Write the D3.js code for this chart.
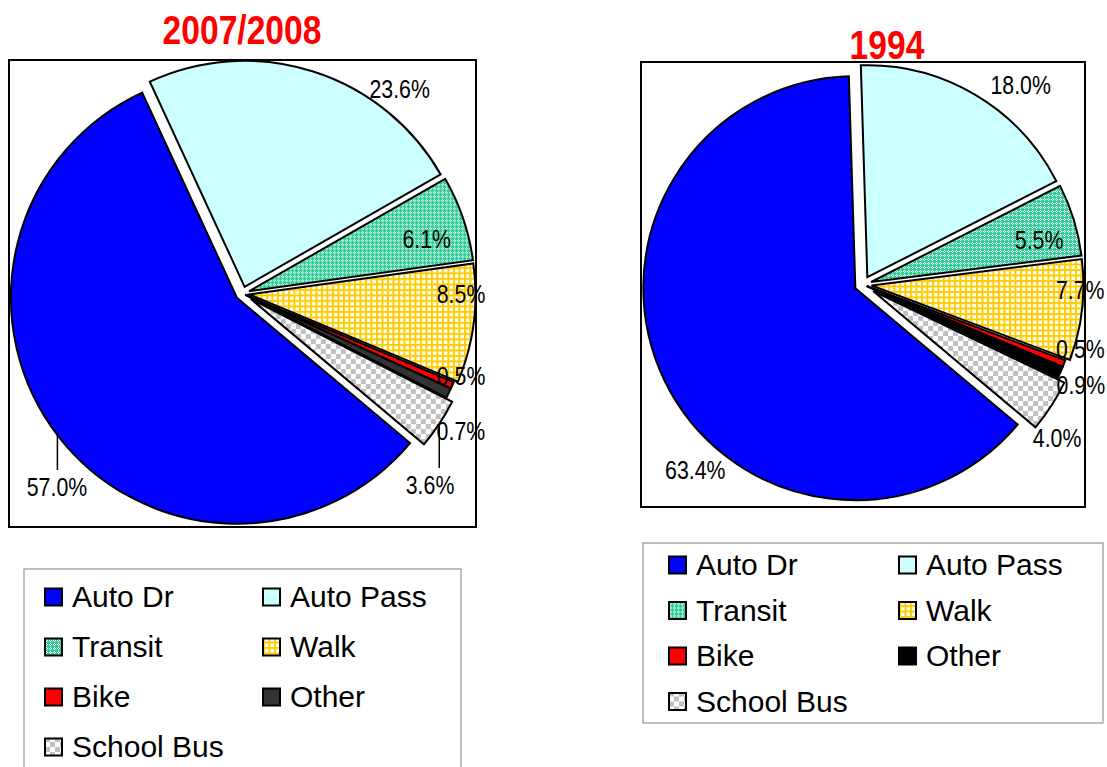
<!DOCTYPE html>
<html>
<head>
<meta charset="utf-8">
<script src="https://cdn.jsdelivr.net/npm/d3@7"></script>
<style>
  body { margin: 0; background: #fff; }
  .narrow { font-family: "Liberation Sans", Arial, sans-serif; }
  .legtxt { font-family: "Liberation Sans", Arial, sans-serif; }
</style>
</head>
<body>
<script>
// trip shares by mode, two survey years
var modes = ["Auto Dr", "Auto Pass", "Transit", "Walk", "Bike", "Other", "School Bus"];
var share2008 = [57.0, 23.6, 6.1, 8.5, 0.5, 0.7, 3.6];
var share1994 = [63.4, 18.0, 5.5, 7.7, 0.5, 0.9, 4.0];
var titles = ["2007/2008", "1994"];

var W = 1107, H = 767;
var NARROW = 0.82; // arial narrow is ~82% of arial width
var svg = d3.select("body").append("svg")
  .attr("width", W)
  .attr("height", H);

// fill patterns (excel style)
var defs = svg.append("defs");

var pt = defs.append("pattern").attr("id", "transit")
  .attr("patternUnits", "userSpaceOnUse").attr("width", 4).attr("height", 4);
pt.append("rect").attr("width", 4).attr("height", 4).attr("fill", "#33cc99");
[[1,0],[0,1],[2,1],[1,2]].forEach(function(p) {
  pt.append("rect").attr("x", p[0]).attr("y", p[1]).attr("width", 1).attr("height", 1).attr("fill", "#fff");
});

var pw = defs.append("pattern").attr("id", "walk")
  .attr("patternUnits", "userSpaceOnUse").attr("width", 5.5).attr("height", 5.5);
pw.append("rect").attr("width", 5.5).attr("height", 5.5).attr("fill", "#fff");
pw.append("rect").attr("width", 5.5).attr("height", 2).attr("fill", "#ffcc00");
pw.append("rect").attr("width", 2).attr("height", 5.5).attr("fill", "#ffcc00");

var ps = defs.append("pattern").attr("id", "school")
  .attr("patternUnits", "userSpaceOnUse").attr("width", 10).attr("height", 10);
ps.append("rect").attr("width", 10).attr("height", 10).attr("fill", "#fff");
ps.append("rect").attr("width", 5).attr("height", 5).attr("fill", "#c0c0c0");
ps.append("rect").attr("x", 5).attr("y", 5).attr("width", 5).attr("height", 5).attr("fill", "#c0c0c0");

var charts = [
  {
    title: titles[0], values: share2008, otherColor: "#333333",
    box: [9, 60, 476, 527], r: 226, titleX: 242, titleY: 44,
    explode: [7, 7, 7, 7, 3, 3, 10],
    labelPos: [[223.8, 1.186], [37.6, 1.14], [73.5, 0.85], [90.1, 0.967], [110.7, 1.034], [122.2, 1.142], [135.6, 1.186]],
    leader: [true, false, false, false, false, false, true],
    legend: { box: [24, 569, 461, 800], y0: 597, step: 50, cols: [45, 263] }
  },
  {
    title: titles[1], values: share1994, otherColor: "#000000",
    box: [641, 62, 1085, 507], r: 212, titleX: 887, titleY: 59,
    explode: [8.5, 8.5, 8.5, 8.5, 4, 4, 12],
    labelPos: [[222.2, 1.178], [38.3, 1.20], [75.7, 0.857], [91.4, 1.025], [106.6, 1.07], [114.8, 1.132], [128.4, 1.168]],
    leader: [false, false, false, false, false, false, false],
    legend: { box: [643, 543, 1103, 723], y0: 565, step: 45.5, cols: [669, 899] }
  }
];

var rad = Math.PI / 180;

charts.forEach(function(c) {
  var fills = ["#0000ff", "#ccffff", "url(#transit)", "url(#walk)", "#ff0000", c.otherColor, "url(#school)"];
  var cx = (c.box[0] + c.box[2]) / 2, cy = (c.box[1] + c.box[3]) / 2;

  // plot area frame
  svg.append("rect")
    .attr("x", c.box[0]).attr("y", c.box[1])
    .attr("width", c.box[2] - c.box[0]).attr("height", c.box[3] - c.box[1])
    .attr("fill", "#fff").attr("stroke", "#000").attr("stroke-width", 2);

  var pie = d3.pie().sort(null)
    .startAngle(130 * rad).endAngle(130 * rad + 2 * Math.PI);
  var arcs = pie(c.values);
  var arc = d3.arc().innerRadius(0).outerRadius(c.r);

  var g = svg.append("g").attr("transform", "translate(" + cx + "," + cy + ")");

  function offset(d, i) {
    var m = (d.startAngle + d.endAngle) / 2;
    return [c.explode[i] * Math.sin(m), -c.explode[i] * Math.cos(m)];
  }

  g.selectAll("path.slice")
    .data(arcs)
    .enter().append("path")
    .attr("class", "slice")
    .attr("transform", function(d, i) { var o = offset(d, i); return "translate(" + o[0] + "," + o[1] + ")"; })
    .attr("d", arc)
    .attr("fill", function(d, i) { return fills[i]; })
    .attr("stroke", "#000")
    .attr("stroke-width", 2)
    .attr("stroke-linejoin", "miter");

  // data labels
  var lab = arcs.map(function(d, i) {
    var p = c.labelPos[i];
    return { x: p[1] * c.r * Math.sin(p[0] * rad), y: -p[1] * c.r * Math.cos(p[0] * rad), d: d, i: i };
  });

  g.selectAll("line.leader")
    .data(lab.filter(function(l) { return c.leader[l.i]; }))
    .enter().append("line")
    .attr("class", "leader")
    .attr("x1", function(l) { var m = (l.d.startAngle + l.d.endAngle) / 2; return offset(l.d, l.i)[0] + c.r * Math.sin(m); })
    .attr("x2", function(l) { var m = (l.d.startAngle + l.d.endAngle) / 2; return offset(l.d, l.i)[0] + c.r * Math.sin(m); })
    .attr("y1", function(l) { var m = (l.d.startAngle + l.d.endAngle) / 2; return offset(l.d, l.i)[1] - c.r * Math.cos(m); })
    .attr("y2", function(l) { return l.y - 17; })
    .attr("stroke", "#000").attr("stroke-width", 1.5);

  g.selectAll("text.lbl")
    .data(lab)
    .enter().append("text")
    .attr("class", "lbl narrow")
    .attr("transform", function(l) { return "translate(" + l.x + "," + (l.y + 9) + ") scale(" + NARROW + ",1)"; })
    .attr("text-anchor", "middle")
    .attr("font-size", 26)
    .attr("fill", "#000")
    .text(function(l) { return c.values[l.i].toFixed(1) + "%"; });

  // title
  svg.append("text")
    .attr("class", "narrow")
    .attr("transform", "translate(" + c.titleX + "," + c.titleY + ") scale(" + NARROW + ",1)")
    .attr("text-anchor", "middle")
    .attr("font-size", 41).attr("font-weight", "bold")
    .attr("fill", "#ff0000")
    .text(c.title);

  // legend
  var L = c.legend;
  svg.append("rect")
    .attr("x", L.box[0]).attr("y", L.box[1])
    .attr("width", L.box[2] - L.box[0]).attr("height", L.box[3] - L.box[1])
    .attr("fill", "#fff").attr("stroke", "#808080").attr("stroke-width", 1);

  var items = svg.selectAll(null)
    .data(modes)
    .enter().append("g")
    .attr("transform", function(d, i) {
      return "translate(" + L.cols[i % 2] + "," + (L.y0 + Math.floor(i / 2) * L.step) + ")";
    });
  items.append("rect")
    .attr("x", 0).attr("y", -8.5)
    .attr("width", 17).attr("height", 17)
    .attr("fill", function(d, i) { return fills[i]; })
    .attr("stroke", "#000").attr("stroke-width", 2);
  items.append("text")
    .attr("class", "legtxt")
    .attr("x", 27).attr("y", 10)
    .attr("font-size", 30)
    .attr("fill", "#000")
    .text(function(d) { return d; });
});
</script>
</body>
</html>
